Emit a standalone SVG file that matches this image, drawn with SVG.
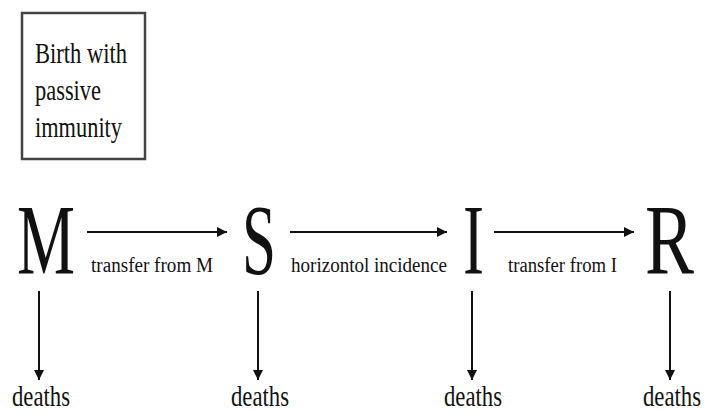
<svg xmlns="http://www.w3.org/2000/svg" width="713" height="413" viewBox="0 0 713 413">
<style>
text{font-family:"Liberation Serif","Times New Roman",serif;fill:#111}
.big{font-size:100px}
.lbl{font-size:20px}
.d{font-size:29px}
.b{font-size:30px}
.c{stroke:#111;stroke-width:2;fill:none}
</style>
<defs>
<marker id="ah" viewBox="0 0 10 10" refX="10" refY="5" markerWidth="5" markerHeight="5" orient="auto" markerUnits="strokeWidth">
<path d="M0,0 L10,5 L0,10 z" fill="#111"/>
</marker>
</defs>
<rect width="713" height="413" fill="#fff"/>
<g id="birth">
<rect x="22" y="13" width="123" height="146" fill="#fff" stroke="#444" stroke-width="2.5"/>
<text class="b" x="35" y="63" textLength="92" lengthAdjust="spacingAndGlyphs">Birth with</text>
<text class="b" x="35" y="100" textLength="66" lengthAdjust="spacingAndGlyphs">passive</text>
<text class="b" x="35" y="137" textLength="87" lengthAdjust="spacingAndGlyphs">immunity</text>
</g>
<g id="M"><text class="big" x="17" y="273" textLength="58" lengthAdjust="spacingAndGlyphs">M</text></g>
<g id="S"><text class="big" x="242" y="273" textLength="34" lengthAdjust="spacingAndGlyphs">S</text></g>
<g id="I"><text class="big" x="463" y="273" textLength="21" lengthAdjust="spacingAndGlyphs">I</text></g>
<g id="R"><text class="big" x="645" y="273" textLength="49" lengthAdjust="spacingAndGlyphs">R</text></g>
<g id="deaths">
<text class="d" x="12" y="406" textLength="58" lengthAdjust="spacingAndGlyphs">deaths</text>
<text class="d" x="231" y="406" textLength="58" lengthAdjust="spacingAndGlyphs">deaths</text>
<text class="d" x="444" y="406" textLength="58" lengthAdjust="spacingAndGlyphs">deaths</text>
<text class="d" x="643" y="406" textLength="58" lengthAdjust="spacingAndGlyphs">deaths</text>
</g>
<g id="connectors">
<line class="c" x1="87" y1="232" x2="227" y2="232" marker-end="url(#ah)"/>
<line class="c" x1="290" y1="232" x2="447" y2="232" marker-end="url(#ah)"/>
<line class="c" x1="494" y1="232" x2="634" y2="232" marker-end="url(#ah)"/>
<line class="c" x1="39" y1="291" x2="39" y2="380" marker-end="url(#ah)"/>
<line class="c" x1="258" y1="291" x2="258" y2="380" marker-end="url(#ah)"/>
<line class="c" x1="472" y1="291" x2="472" y2="380" marker-end="url(#ah)"/>
<line class="c" x1="670" y1="291" x2="670" y2="380" marker-end="url(#ah)"/>
<text class="lbl" x="91" y="272" textLength="122" lengthAdjust="spacingAndGlyphs">transfer from M</text>
<text class="lbl" x="291" y="272" textLength="156" lengthAdjust="spacingAndGlyphs">horizontol incidence</text>
<text class="lbl" x="508" y="272" textLength="109" lengthAdjust="spacingAndGlyphs">transfer from I</text>
</g>
</svg>
